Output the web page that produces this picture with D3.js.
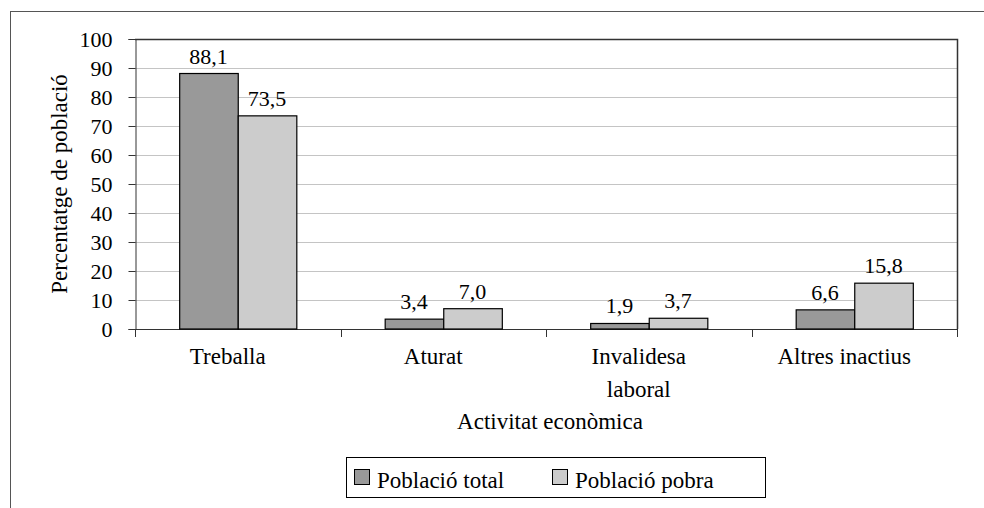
<!DOCTYPE html>
<html>
<head>
<meta charset="utf-8">
<script src="https://cdn.jsdelivr.net/npm/d3@7"></script>
<style>
  body { margin: 0; background: #fff; }
</style>
</head>
<body>
<div id="chart"></div>
<script>
// data
const categories = ['Treballa', 'Aturat', 'Invalidesa\nlaboral', 'Altres inactius'];
const seriesNames = ['Població total', 'Població pobra'];
const totalValues = [88.1, 3.4, 1.9, 6.6];
const pobraValues = [73.5, 7.0, 3.7, 15.8];
const yTicks = [0, 10, 20, 30, 40, 50, 60, 70, 80, 90, 100];
const colors = ['#999999', '#cccccc'];

const dims = { width: 984, height: 508 };
const plot = { left: 135, right: 957, top: 39, bottom: 329 };
const fontSize = 23;
const numSize = 22;
const serif = "'Liberation Serif', 'Times New Roman', Times, 'DejaVu Serif', serif";

const svg = d3.select('#chart')
    .append('svg')
    .attr('width', dims.width)
    .attr('height', dims.height)
    .style('font-family', serif);

// outer frame (runs off right and bottom edges)
svg.append('rect')
    .attr('x', 10.5)
    .attr('y', 11.5)
    .attr('width', 1000)
    .attr('height', 600)
    .attr('fill', 'none')
    .attr('stroke', '#555');

// scales
const x0 = d3.scaleBand()
    .domain(categories)
    .range([plot.left, plot.right])
    .paddingInner(0.43)
    .paddingOuter(0.215);

const x1 = d3.scaleBand()
    .domain(seriesNames)
    .range([0, x0.bandwidth()]);

const y = d3.scaleLinear()
    .domain([0, 100])
    .range([plot.bottom, plot.top]);

// gridlines
svg.append('g')
    .selectAll('line')
    .data(yTicks.filter(d => d > 0))
    .enter()
    .append('line')
    .attr('x1', plot.left)
    .attr('x2', plot.right)
    .attr('y1', d => Math.round(y(d)) + 0.5)
    .attr('y2', d => Math.round(y(d)) + 0.5)
    .attr('stroke', '#c4c4c4');

// plot area top & right border
svg.append('path')
    .attr('d', `M${plot.left},${plot.top + 0.5}H${plot.right + 0.5}V${plot.bottom}`)
    .attr('fill', 'none')
    .attr('stroke', '#333')
    .attr('stroke-width', 1.5);

// y axis
const yAxis = svg.append('g')
    .attr('transform', `translate(${plot.left + 0.5},0)`)
    .call(d3.axisLeft(y).tickValues(yTicks).tickSize(7).tickPadding(16).tickFormat(d3.format('d')))
    .attr('font-family', null)
    .attr('font-size', null);

yAxis.select('.domain').attr('stroke', '#333');
yAxis.selectAll('.tick line').attr('stroke', '#333');
yAxis.selectAll('text')
    .style('font-family', serif)
    .style('font-size', numSize + 'px')
    .attr('fill', '#000')
    .attr('dy', '0.33em');

// x axis: line plus ticks at category boundaries
const bounds = d3.range(categories.length + 1).map(i => plot.left + i * x0.step());

svg.append('line')
    .attr('x1', plot.left)
    .attr('x2', plot.right + 1)
    .attr('y1', plot.bottom + 0.5)
    .attr('y2', plot.bottom + 0.5)
    .attr('stroke', '#333');

svg.append('g')
    .selectAll('line')
    .data(bounds)
    .enter()
    .append('line')
    .attr('x1', d => Math.round(d) + 0.5)
    .attr('x2', d => Math.round(d) + 0.5)
    .attr('y1', plot.bottom)
    .attr('y2', plot.bottom + 8)
    .attr('stroke', '#333');

// category labels
const catLabels = svg.append('g')
    .selectAll('text')
    .data(categories)
    .enter()
    .append('text')
    .attr('text-anchor', 'middle')
    .style('font-family', serif)
    .style('font-size', fontSize + 'px');

catLabels.each(function (d) {
    const cx = x0(d) + x0.bandwidth() / 2 - 10;
    d.split('\n').forEach((line, i) => {
        d3.select(this).append('tspan')
            .attr('x', cx)
            .attr('y', 364 + i * 33)
            .text(line);
    });
});

// bars
const rows = categories.map((c, i) => ({ cat: c, values: [totalValues[i], pobraValues[i]] }));
const fmt = v => d3.format('.1f')(v).replace('.', ',');

const groups = svg.append('g')
    .selectAll('g')
    .data(rows)
    .enter()
    .append('g')
    .attr('transform', d => `translate(${x0(d.cat)},0)`);

groups.selectAll('rect')
    .data(d => d.values.map((v, i) => ({ name: seriesNames[i], value: v, i })))
    .enter()
    .append('rect')
    .attr('x', d => x1(d.name) + 0.5)
    .attr('y', d => y(d.value))
    .attr('width', x1.bandwidth())
    .attr('height', d => y(0) - y(d.value))
    .attr('fill', d => colors[d.i])
    .attr('stroke', '#000')
    .attr('stroke-width', 1.2);

groups.selectAll('.val')
    .data(d => d.values.map((v, i) => ({ name: seriesNames[i], value: v })))
    .enter()
    .append('text')
    .attr('class', 'val')
    .attr('x', d => x1(d.name) + x1.bandwidth() / 2)
    .attr('y', d => y(d.value) - 10)
    .attr('text-anchor', 'middle')
    .style('font-family', serif)
    .style('font-size', numSize + 'px')
    .text(d => fmt(d.value));

// axis titles
svg.append('text')
    .attr('transform', `translate(67,${(plot.top + plot.bottom) / 2}) rotate(-90)`)
    .attr('text-anchor', 'middle')
    .style('font-family', serif)
    .style('font-size', fontSize + 'px')
    .text('Percentatge de població');

svg.append('text')
    .attr('x', 550)
    .attr('y', 429)
    .attr('text-anchor', 'middle')
    .style('font-family', serif)
    .style('font-size', fontSize + 'px')
    .text('Activitat econòmica');

// legend
const legend = svg.append('g');

legend.append('rect')
    .attr('x', 346.5)
    .attr('y', 457.5)
    .attr('width', 419)
    .attr('height', 40)
    .attr('fill', '#fff')
    .attr('stroke', '#000');

const legendX = [354, 552];

const items = legend.selectAll('.item')
    .data(seriesNames)
    .enter()
    .append('g')
    .attr('class', 'item')
    .attr('transform', (d, i) => `translate(${legendX[i]},0)`);

items.append('rect')
    .attr('x', 0.5)
    .attr('y', 469.5)
    .attr('width', 15)
    .attr('height', 15)
    .attr('fill', (d, i) => colors[i])
    .attr('stroke', '#000');

items.append('text')
    .attr('x', 23)
    .attr('y', 488)
    .style('font-family', serif)
    .style('font-size', fontSize + 'px')
    .text(d => d);
</script>
</body>
</html>
